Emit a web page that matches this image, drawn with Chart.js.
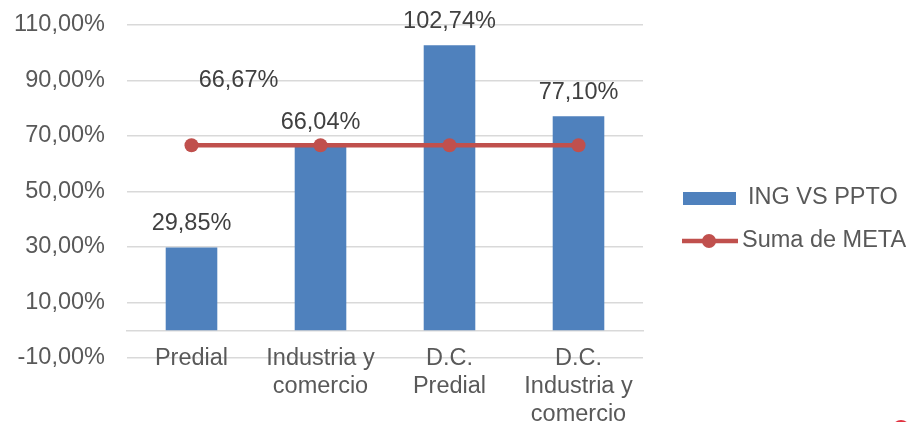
<!DOCTYPE html>
<html lang="es">

<head>
    <meta charset="UTF-8">
    <title>ING VS PPTO</title>
    <script src="https://cdn.jsdelivr.net/npm/chart.js@4.4.0/dist/chart.umd.min.js"></script>
    <style>
        body { margin: 0; background: #fff; }
    </style>
</head>

<body>
    <canvas id="chart" width="913" height="422"></canvas>
</body>
<script>
    var categories = [['Predial'], ['Industria y', 'comercio'], ['D.C.', 'Predial'], ['D.C.', 'Industria y', 'comercio']];
    var ingVsPpto = [29.85, 66.04, 102.74, 77.10];
    var sumaMeta = [66.67, 66.67, 66.67, 66.67];
    var seriesNames = ['ING VS PPTO', 'Suma de META'];

    var blue = '#4F81BD';
    var red = '#C0504D';
    var font = 'Liberation Sans, Arial, sans-serif';
    var fsize = 23.5;

    function pct(v) {
        return v.toFixed(2).replace('.', ',') + '%';
    }

    // data labels + legend drawn by hand
    var extras = {
        id: 'extras',
        afterDatasetsDraw: function (chart) {
            var ctx = chart.ctx;
            ctx.save();
            ctx.font = fsize + 'px ' + font;
            ctx.fillStyle = '#404040';
            ctx.textAlign = 'center';
            ctx.textBaseline = 'middle';
            var bars = chart.getDatasetMeta(0).data;
            bars.forEach(function (b, i) {
                ctx.fillText(pct(ingVsPpto[i]), b.x, b.y - 24);
            });
            var pts = chart.getDatasetMeta(1).data;
            ctx.fillText(pct(sumaMeta[0]), pts[0].x + 47, pts[0].y - 65);

            // legend
            var lx = chart.chartArea.right + 40;
            var ly = 198;
            ctx.fillStyle = blue;
            ctx.fillRect(lx, ly - 6, 53, 13);
            ctx.fillStyle = '#595959';
            ctx.textAlign = 'left';
            ctx.fillText(seriesNames[0], lx + 65, ly);

            var ly2 = ly + 43;
            ctx.strokeStyle = red;
            ctx.lineWidth = 4.5;
            ctx.beginPath();
            ctx.moveTo(lx - 1, ly2);
            ctx.lineTo(lx + 55, ly2);
            ctx.stroke();
            ctx.fillStyle = red;
            ctx.beginPath();
            ctx.arc(lx + 26, ly2, 7, 0, Math.PI * 2);
            ctx.fill();
            ctx.fillStyle = '#595959';
            ctx.fillText(seriesNames[1], lx + 59, ly2);

            // small red mark in the corner of the reference
            ctx.fillStyle = '#E0313F';
            ctx.beginPath();
            ctx.arc(901, 429, 9, 0, Math.PI * 2);
            ctx.fill();
            ctx.restore();
        }
    };

    var context = document.getElementById('chart');
    var chart = new Chart(context, {
        type: 'bar',
        data: {
            labels: categories,
            datasets: [{
                label: seriesNames[0],
                data: ingVsPpto,
                backgroundColor: blue,
                barPercentage: 0.5,
                categoryPercentage: 0.8,
                order: 1
            }, {
                type: 'line',
                label: seriesNames[1],
                data: sumaMeta,
                borderColor: red,
                backgroundColor: red,
                borderWidth: 4.5,
                pointRadius: 7,
                pointBorderWidth: 0,
                pointBackgroundColor: red,
                order: 0
            }]
        },
        options: {
            responsive: false,
            animation: false,
            layout: { padding: { left: 0, right: 270, top: 25, bottom: 64 } },
            plugins: {
                legend: { display: false },
                tooltip: { enabled: false }
            },
            scales: {
                x: {
                    position: { y: 0 },
                    grid: { display: false, drawTicks: false },
                    border: { color: '#D9D9D9', width: 1.5 },
                    ticks: {
                        color: '#595959',
                        font: { family: font, size: fsize },
                        padding: 14,
                        maxRotation: 0,
                        autoSkip: false
                    }
                },
                y: {
                    min: -10,
                    max: 110,
                    afterFit: function (s) { s.width = 127; },
                    grid: { color: '#D9D9D9', lineWidth: 1.5, drawTicks: true, tickLength: 22, tickColor: 'rgba(0,0,0,0)' },
                    border: { display: false },
                    ticks: {
                        stepSize: 20,
                        color: '#595959',
                        font: { family: font, size: fsize },
                        padding: 0,
                        callback: function (v) { return pct(v); }
                    }
                }
            }
        },
        plugins: [extras]
    });
</script>

</html>
